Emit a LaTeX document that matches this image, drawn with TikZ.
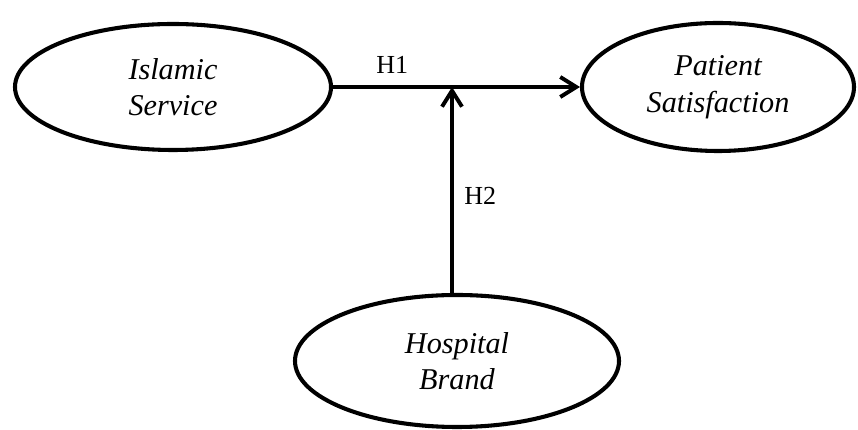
\documentclass[tikz,border=0pt]{standalone}
\usepackage{fontspec}
\setmainfont{Liberation Serif}
\usetikzlibrary{arrows.meta,shapes.geometric}

\begin{document}
\begin{tikzpicture}[
  construct/.style={shape=ellipse, draw=black, fill=white, line width=2.9pt,
    align=center, inner sep=0pt,
    font=\fontsize{21.5}{26}\selectfont\itshape},
  path/.style={line width=2.8pt, -{Straight Barb[length=4mm, width=5mm]}},
  hyp/.style={font=\fontsize{18.5}{20}\selectfont}
]
\useasboundingbox (0,0) rectangle (21.45,10.75);
        % conceptual model
\node[construct, minimum width=7.9cm, minimum height=3.15cm] at (4.325, 8.575)
(isl) {Islamic\\Service};

\node[construct, minimum width=6.8cm, minimum height=3.2cm] at (17.95, 8.575)
(pat) {Patient\\Satisfaction};

\node[construct, minimum width=8.1cm, minimum height=3.3cm] at (11.425, 1.725)
(hos) {Hospital\\Brand};

\coordinate (meet) at (11.3, 8.575);

\draw[path]
  (isl) -- node[hyp, pos=0.24, above=5pt] (h1) {H1} (pat)
;
\draw[path]
  (meet |- hos.north) -- node[hyp, pos=0.47, right=4pt] (h2) {H2} (meet)
;
      \end{tikzpicture}
\end{document}
